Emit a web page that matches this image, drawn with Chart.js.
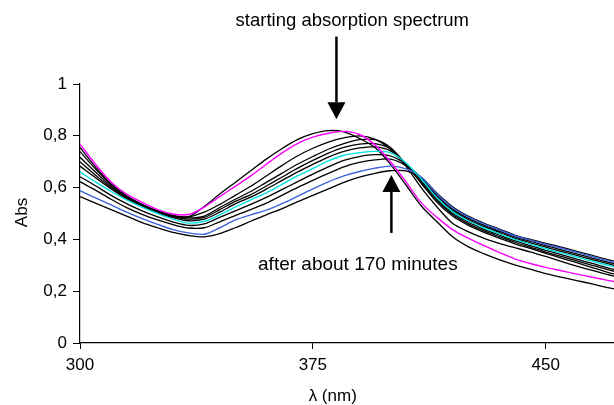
<!DOCTYPE html>
<html>
<head>
<meta charset="utf-8">
<script src="https://cdn.jsdelivr.net/npm/chart.js@4.4.1/dist/chart.umd.min.js"></script>
<style>
html,body{margin:0;padding:0;background:#fff;}
#wrap{width:614px;height:405px;position:relative;}
</style>
</head>
<body>
<div id="wrap"><canvas id="c" width="614" height="405"></canvas></div>
<script>
// Wavelengths (nm)
const wavelengths = [300,305,310,315,320,325,330,335,340,345,350,355,360,365,370,375,380,385,390,395,400,405,410,415,420,425,430,435,440,445,450,455,460,465,470,475];

// Spectra (absorbance), in time order
const sStart = [0.755,0.680,0.615,0.568,0.535,0.508,0.490,0.488,0.527,0.575,0.620,0.665,0.710,0.750,0.785,0.808,0.820,0.815,0.790,0.755,0.690,0.610,0.528,0.468,0.410,0.372,0.345,0.322,0.302,0.285,0.268,0.254,0.241,0.228,0.214,0.202];
const sMagenta = [0.768,0.690,0.622,0.575,0.543,0.515,0.498,0.496,0.525,0.565,0.605,0.645,0.690,0.733,0.770,0.795,0.810,0.817,0.805,0.765,0.700,0.622,0.540,0.485,0.438,0.405,0.377,0.350,0.325,0.307,0.292,0.279,0.266,0.254,0.242,0.230];
const s2 = [0.739,0.672,0.612,0.565,0.533,0.510,0.493,0.487,0.505,0.535,0.570,0.605,0.645,0.685,0.722,0.752,0.776,0.792,0.800,0.787,0.748,0.682,0.598,0.525,0.462,0.430,0.405,0.385,0.368,0.352,0.334,0.315,0.297,0.280,0.264,0.250];
const s3 = [0.717,0.660,0.605,0.562,0.532,0.508,0.490,0.483,0.490,0.523,0.555,0.585,0.620,0.655,0.690,0.720,0.748,0.770,0.785,0.785,0.755,0.690,0.615,0.543,0.490,0.455,0.428,0.405,0.383,0.365,0.346,0.328,0.310,0.291,0.273,0.258];
const s4 = [0.700,0.648,0.600,0.560,0.530,0.506,0.488,0.478,0.485,0.515,0.547,0.573,0.606,0.640,0.674,0.705,0.733,0.755,0.768,0.770,0.750,0.688,0.620,0.550,0.496,0.461,0.434,0.411,0.389,0.370,0.351,0.334,0.317,0.300,0.283,0.268];
const s5 = [0.683,0.638,0.595,0.556,0.527,0.502,0.484,0.472,0.478,0.505,0.537,0.563,0.594,0.627,0.660,0.690,0.718,0.740,0.753,0.757,0.742,0.690,0.626,0.556,0.502,0.467,0.440,0.417,0.395,0.376,0.358,0.341,0.324,0.307,0.290,0.275];
const sCyan = [0.661,0.622,0.585,0.553,0.525,0.500,0.478,0.463,0.470,0.495,0.525,0.553,0.580,0.612,0.645,0.674,0.703,0.725,0.735,0.740,0.735,0.695,0.632,0.560,0.507,0.472,0.445,0.422,0.400,0.382,0.364,0.348,0.332,0.316,0.300,0.285];
const s7 = [0.642,0.607,0.570,0.538,0.510,0.487,0.467,0.454,0.460,0.485,0.510,0.535,0.562,0.592,0.622,0.652,0.680,0.705,0.720,0.727,0.722,0.690,0.635,0.565,0.512,0.477,0.450,0.427,0.405,0.387,0.370,0.354,0.338,0.322,0.306,0.290];
const s8 = [0.623,0.590,0.555,0.523,0.497,0.475,0.457,0.444,0.445,0.468,0.492,0.515,0.540,0.570,0.600,0.628,0.655,0.680,0.697,0.707,0.710,0.685,0.637,0.570,0.517,0.482,0.455,0.432,0.410,0.393,0.376,0.360,0.344,0.328,0.312,0.297];
const sBlue = [0.588,0.560,0.533,0.505,0.480,0.458,0.438,0.425,0.420,0.445,0.475,0.495,0.513,0.538,0.566,0.595,0.622,0.645,0.662,0.675,0.683,0.672,0.640,0.575,0.522,0.487,0.460,0.437,0.414,0.397,0.381,0.366,0.350,0.334,0.318,0.303];
const sEnd = [0.565,0.540,0.515,0.490,0.465,0.445,0.427,0.415,0.410,0.422,0.445,0.470,0.495,0.518,0.545,0.570,0.595,0.620,0.640,0.655,0.665,0.665,0.638,0.578,0.526,0.490,0.463,0.440,0.417,0.400,0.385,0.370,0.354,0.338,0.322,0.307];

// Axis ticks and labels
const xTicks = [300, 375, 450];
const yTicks = [0, 0.2, 0.4, 0.6, 0.8, 1];
const yTickLabels = ['0', '0,2', '0,4', '0,6', '0,8', '1'];
const xTitle = 'λ (nm)';
const yTitle = 'Abs';
const noteStart = 'starting absorption spectrum';
const noteEnd = 'after about 170 minutes';

const FONT = '"Liberation Sans", Arial, sans-serif';

function pts(arr){ return arr.map((v,i)=>({x:wavelengths[i], y:v})); }
function ds(arr, color, w){ return {data: pts(arr), borderColor: color, borderWidth: w||1.3, pointRadius: 0, fill: false, tension: 0.3}; }

const datasets = [
  ds(sMagenta, '#ff00ff', 1.4),
  ds(sCyan, '#00e0e0', 1.4),
  ds(sBlue, '#3d63dd', 1.4),
  ds(sStart, '#000'),
  ds(s2, '#000'),
  ds(s3, '#000'),
  ds(s4, '#000'),
  ds(s5, '#000'),
  ds(s7, '#000'),
  ds(s8, '#000'),
  ds(sEnd, '#000')
];

function arrow(ctx, x, yTail, yTip){
  const headLen = 17, headW = 9;
  const dir = yTip > yTail ? 1 : -1;
  ctx.beginPath();
  ctx.lineWidth = 2.5;
  ctx.moveTo(x, yTail);
  ctx.lineTo(x, yTip - dir*headLen);
  ctx.stroke();
  ctx.beginPath();
  ctx.moveTo(x, yTip);
  ctx.lineTo(x - headW, yTip - dir*headLen);
  ctx.lineTo(x + headW, yTip - dir*headLen);
  ctx.closePath();
  ctx.fill();
}

const notes = {
  id: 'notes',
  afterDraw(chart){
    const {ctx, scales:{x, y}} = chart;
    ctx.save();
    ctx.fillStyle = '#000';
    ctx.strokeStyle = '#000';
    ctx.textAlign = 'center';
    ctx.textBaseline = 'alphabetic';
    ctx.font = '18.5px ' + FONT;
    ctx.fillText(noteStart, x.getPixelForValue(387.7), y.getPixelForValue(1.224));
    ctx.font = '19px ' + FONT;
    ctx.fillText(noteEnd, x.getPixelForValue(389.5), y.getPixelForValue(0.282));
    arrow(ctx, x.getPixelForValue(382.6), y.getPixelForValue(1.183), y.getPixelForValue(0.864));
    arrow(ctx, x.getPixelForValue(400.3), y.getPixelForValue(0.425), y.getPixelForValue(0.649));
    // axis titles
    ctx.font = '17px ' + FONT;
    ctx.fillText(xTitle, x.getPixelForValue(381.4), chart.height - 4);
    ctx.save();
    ctx.translate(22, (y.top + y.bottom)/2 - 1);
    ctx.rotate(-Math.PI/2);
    ctx.textBaseline = 'middle';
    ctx.fillText(yTitle, 0, 0);
    ctx.restore();
    ctx.restore();
  }
};

new Chart(document.getElementById('c'), {
  type: 'line',
  data: { datasets },
  options: {
    responsive: false,
    animation: false,
    events: [],
    layout: { padding: { top: 84, right: 0, left: 0, bottom: 0 } },
    plugins: { legend: { display: false }, tooltip: { enabled: false } },
    scales: {
      x: {
        type: 'linear',
        min: 300, max: 472,
        afterBuildTicks: s => { s.ticks = xTicks.map(v => ({value: v})); },
        afterFit: s => { s.height = 62; },
        grid: { drawOnChartArea: false, drawTicks: true, tickLength: 6, color: '#000', lineWidth: 1 },
        border: { display: true, color: '#000', width: 1.2 },
        ticks: { color: '#000', font: { family: FONT, size: 17 }, padding: 6, maxRotation: 0, autoSkip: false,
                 callback: v => String(v) },
        title: { display: false }
      },
      y: {
        type: 'linear',
        min: 0, max: 1,
        afterBuildTicks: s => { s.ticks = yTicks.map(v => ({value: v})); },
        afterFit: s => { s.width = 80; },
        grid: { drawOnChartArea: false, drawTicks: true, tickLength: 7, color: '#000', lineWidth: 1 },
        border: { display: true, color: '#000', width: 1.2 },
        ticks: { color: '#000', font: { family: FONT, size: 17 }, padding: 6,
                 callback: (v) => { const i = yTicks.indexOf(v); return i >= 0 ? yTickLabels[i] : ''; } },
        title: { display: false }
      }
    }
  },
  plugins: [notes]
});
</script>
</body>
</html>
